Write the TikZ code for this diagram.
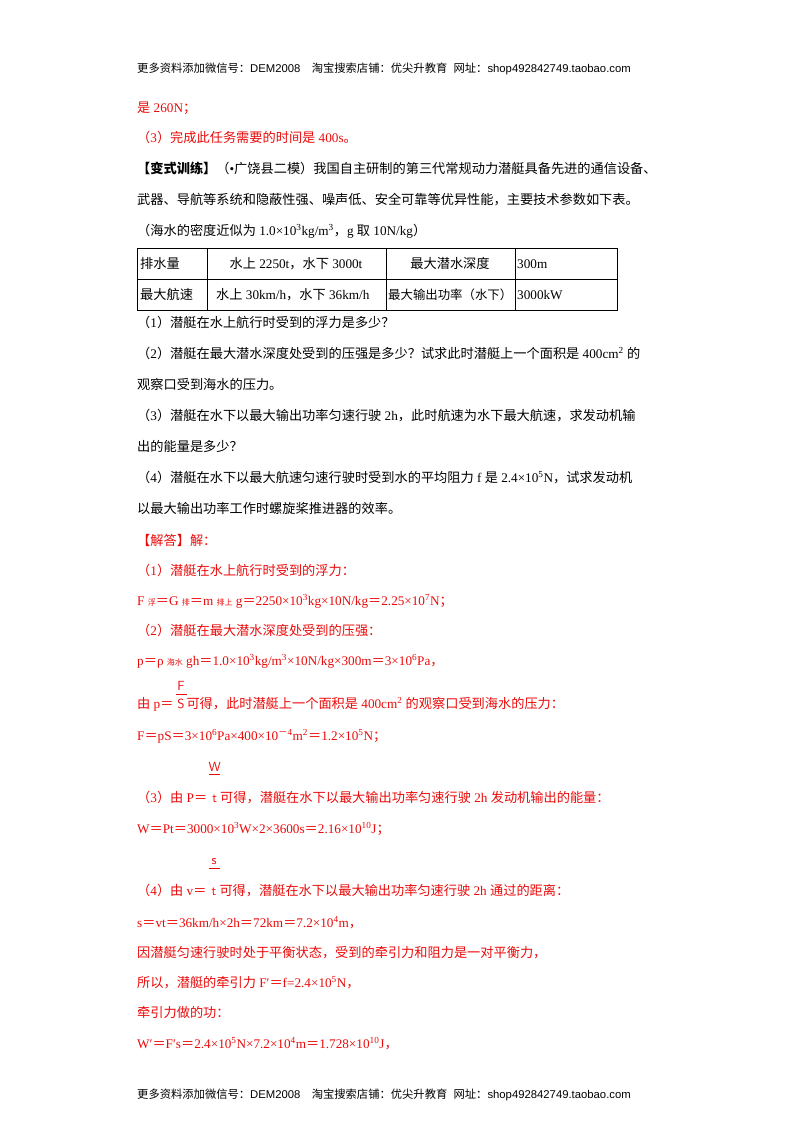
\documentclass[tikz,border=0pt]{standalone}
\usepackage{fontspec}
\setmainfont{Liberation Serif}
\newfontfamily\cjk{Noto Sans CJK SC}
\newfontfamily\hdr{Liberation Sans}
\makeatletter
\newXeTeXintercharclass\cjkclass
\count@="3000
\loop \XeTeXcharclass\count@=\cjkclass \advance\count@ 1 \ifnum\count@<"A000 \repeat
\count@="FF00
\loop \XeTeXcharclass\count@=\cjkclass \advance\count@ 1 \ifnum\count@<"FFF0 \repeat
\XeTeXinterchartoks 0 \cjkclass = {\begingroup\cjk}
\XeTeXinterchartoks 4095 \cjkclass = {\begingroup\cjk}
\XeTeXinterchartoks \cjkclass 0 = {\endgroup}
\XeTeXinterchartoks \cjkclass 4095 = {\endgroup}
\makeatother
\XeTeXinterchartokenstate=1
\definecolor{ans}{RGB}{235,10,10}
\newcommand\ffr[4]{\hspace{2pt}\makebox[11pt]{\sffamily #4}\hspace{-11pt}\makebox[11pt]{\raisebox{#2}{\rule{11pt}{0.6pt}}}\hspace{-11pt}\makebox[11pt]{\raisebox{#1}{\sffamily #3}}}
\begin{document}
\begin{tikzpicture}[x=1pt,y=1pt,
  t/.style={anchor=base west,inner sep=0pt,font=\fontsize{13.2}{14}\selectfont},
  r/.style={t,text=ans},
  h/.style={anchor=base west,inner sep=0pt,font=\fontsize{11.3}{12}\selectfont\hdr}]
\useasboundingbox (0,0) rectangle (800,-1132);
\node[h] (h1) at (137,-72) {更多资料添加微信号：DEM2008\quad 淘宝搜索店铺：优尖升教育\ \ 网址：shop492842749.taobao.com};
\node[r] (l1) at (137,-112) {是 260N；};
\node[r] (l2) at (137,-142) {（3）完成此任务需要的时间是 400s。};
\node[t] (l3) at (137,-173) {\textbf{【变式训练】}（•广饶县二模）我国自主研制的第三代常规动力潜艇具备先进的通信设备、};
\node[t] (l4) at (137,-204) {武器、导航等系统和隐蔽性强、噪声低、安全可靠等优异性能，主要技术参数如下表。};
\node[t] (l5) at (137,-235) {（海水的密度近似为 1.0×10\textsuperscript{3}kg/m\textsuperscript{3}，g 取 10N/kg）};
% table
\draw[line width=0.8pt] (137,-248) rectangle (617,-310);
\draw[line width=0.6pt] (137,-279) -- (617,-279);
\foreach \x in {207,386,515} \draw[line width=0.6pt] (\x,-248) -- (\x,-310);
\node[t] (c11) at (140,-268) {排水量};
\node[t,anchor=base] (c12) at (296,-268) {水上 2250t，水下 3000t};
\node[t,anchor=base] (c13) at (450,-268) {最大潜水深度};
\node[t] (c14) at (517,-268) {300m};
\node[t] (c21) at (140,-299) {最大航速};
\node[t] (c22) at (216,-299) {水上 30km/h，水下 36km/h};
\node[t,font=\fontsize{12.4}{14}\selectfont] (c23) at (388,-299) {最大输出功率（水下）};
\node[t] (c24) at (517,-299) {3000kW};
\node[t] (q1) at (137,-327) {（1）潜艇在水上航行时受到的浮力是多少？};
\node[t] (q2) at (137,-358) {（2）潜艇在最大潜水深度处受到的压强是多少？试求此时潜艇上一个面积是 400cm\textsuperscript{2} 的};
\node[t] (q2b) at (137,-389) {观察口受到海水的压力。};
\node[t] (q3) at (137,-420) {（3）潜艇在水下以最大输出功率匀速行驶 2h，此时航速为水下最大航速，求发动机输};
\node[t] (q3b) at (137,-451) {出的能量是多少？};
\node[t] (q4) at (137,-482) {（4）潜艇在水下以最大航速匀速行驶时受到水的平均阻力 f 是 2.4×10\textsuperscript{5}N，试求发动机};
\node[t] (q4b) at (137,-513) {以最大输出功率工作时螺旋桨推进器的效率。};
\node[r] (a0) at (137,-545) {【解答】解：};
\node[r] (a1) at (137,-575) {（1）潜艇在水上航行时受到的浮力：};
\node[r] (a2) at (137,-605) {F {\fontsize{8}{9}\selectfont 浮}＝G {\fontsize{8}{9}\selectfont 排}＝m {\fontsize{8}{9}\selectfont 排上} g＝2250×10\textsuperscript{3}kg×10N/kg＝2.25×10\textsuperscript{7}N；};
\node[r] (a3) at (137,-635) {（2）潜艇在最大潜水深度处受到的压强：};
\node[r] (a4) at (137,-665) {p＝ρ {\fontsize{8}{9}\selectfont 海水} gh＝1.0×10\textsuperscript{3}kg/m\textsuperscript{3}×10N/kg×300m＝3×10\textsuperscript{6}Pa，};
\node[r] (a5) at (137,-708) {由 p＝\ffr{18pt}{13pt}{F}{S}可得，此时潜艇上一个面积是 400cm\textsuperscript{2} 的观察口受到海水的压力：};
\node[r] (a6) at (137,-740) {F＝pS＝3×10\textsuperscript{6}Pa×400×10\textsuperscript{－4}m\textsuperscript{2}＝1.2×10\textsuperscript{5}N；};
\node[r] (a7) at (137,-802) {（3）由 P＝\ffr{31pt}{27pt}{W}{t}可得，潜艇在水下以最大输出功率匀速行驶 2h 发动机输出的能量：};
\node[r] (a8) at (137,-833) {W＝Pt＝3000×10\textsuperscript{3}W×2×3600s＝2.16×10\textsuperscript{10}J；};
\node[r] (a9) at (137,-895) {（4）由 v＝\ffr{31pt}{26pt}{s}{t}可得，潜艇在水下以最大输出功率匀速行驶 2h 通过的距离：};
\node[r] (a10) at (137,-927) {s＝vt＝36km/h×2h＝72km＝7.2×10\textsuperscript{4}m，};
\node[r] (a11) at (137,-957) {因潜艇匀速行驶时处于平衡状态，受到的牵引力和阻力是一对平衡力，};
\node[r] (a12) at (137,-987) {所以，潜艇的牵引力 F′＝f=2.4×10\textsuperscript{5}N，};
\node[r] (a13) at (137,-1017) {牵引力做的功：};
\node[r] (a14) at (137,-1048) {W′＝F′s＝2.4×10\textsuperscript{5}N×7.2×10\textsuperscript{4}m＝1.728×10\textsuperscript{10}J，};
\node[h] (h2) at (137,-1098) {更多资料添加微信号：DEM2008\quad 淘宝搜索店铺：优尖升教育\ \ 网址：shop492842749.taobao.com};
\end{tikzpicture}
\end{document}
